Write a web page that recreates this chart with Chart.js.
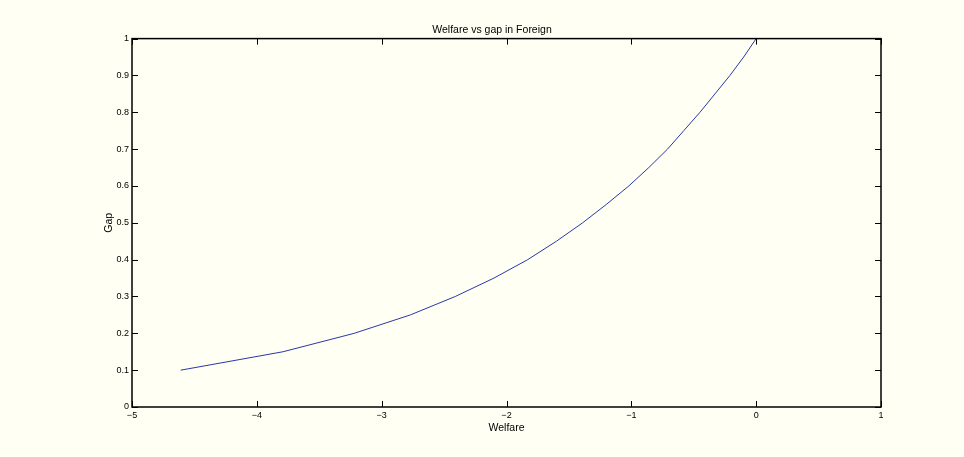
<!DOCTYPE html>
<html>
<head>
<meta charset="utf-8">
<script src="https://cdn.jsdelivr.net/npm/chart.js@4"></script>
<style>
  html, body { margin: 0; padding: 0; background: #fffff4; }
  #wrap { width: 964px; height: 457px; }
</style>
</head>
<body>
<div id="wrap"><canvas id="chart"></canvas></div>
<script>
// values
const welfare = [-4.61, -3.79, -3.22, -2.77, -2.41, -2.10, -1.83, -1.60, -1.39, -1.20,
                 -1.02, -0.86, -0.71, -0.58, -0.45, -0.33, -0.21, -0.10, 0];
const gap = [0.10, 0.15, 0.20, 0.25, 0.30, 0.35, 0.40, 0.45, 0.50, 0.55,
             0.60, 0.65, 0.70, 0.75, 0.80, 0.85, 0.90, 0.95, 1.00];
const xTicks = [-5, -4, -3, -2, -1, 0, 1];
const yTicks = [0, 0.1, 0.2, 0.3, 0.4, 0.5, 0.6, 0.7, 0.8, 0.9, 1];

const font = "Helvetica, Arial, 'Liberation Sans', sans-serif";

// matlab style box with inward ticks on all four sides
const boxTicks = {
  id: "boxTicks",
  afterDraw(chart) {
    const { ctx, chartArea: a, scales } = chart;
    const len = 6;
    ctx.save();
    ctx.strokeStyle = "#000";
    ctx.lineWidth = 1;
    ctx.beginPath();
    xTicks.forEach((v) => {
      const px = Math.round(scales.x.getPixelForValue(v)) + 0.5;
      ctx.moveTo(px, a.bottom); ctx.lineTo(px, a.bottom - len);
      ctx.moveTo(px, a.top); ctx.lineTo(px, a.top + len);
    });
    yTicks.forEach((v) => {
      const py = Math.round(scales.y.getPixelForValue(v)) + 0.5;
      ctx.moveTo(a.left, py); ctx.lineTo(a.left + len, py);
      ctx.moveTo(a.right, py); ctx.lineTo(a.right - len, py);
    });
    ctx.stroke();
    ctx.lineWidth = 1.5;
    ctx.strokeRect(a.left, a.top, a.right - a.left, a.bottom - a.top);
    ctx.restore();
  }
};

const pts = welfare.map((w, i) => ({ x: w, y: gap[i] }));

new Chart(document.getElementById("chart"), {
  type: "line",
  data: {
    datasets: [{
      data: pts,
      borderColor: "#2838aa",
      borderWidth: 1,
      pointRadius: 0,
      tension: 0,
      fill: false
    }]
  },
  options: {
    responsive: true,
    maintainAspectRatio: false,
    animation: false,
    layout: { padding: { left: 103, right: 83, top: 4, bottom: 23 } },
    plugins: {
      legend: { display: false },
      tooltip: { enabled: false },
      title: {
        display: true,
        text: "Welfare vs gap in Foreign",
        color: "#000",
        font: { family: font, size: 10.5, weight: "normal" },
        padding: { top: 20, bottom: 2 }
      }
    },
    scales: {
      x: {
        type: "linear",
        min: -5,
        max: 1,
        afterBuildTicks: (s) => { s.ticks = xTicks.map((v) => ({ value: v })); },
        afterFit: (s) => { s.height = 27; },
        grid: { display: false, drawTicks: false },
        border: { display: false },
        ticks: {
          color: "#000",
          padding: 3,
          maxRotation: 0,
          font: { family: font, size: 9 },
          callback: (v) => String(v).replace("-", "\u2212")
        },
        title: {
          display: true,
          text: "Welfare",
          color: "#000",
          font: { family: font, size: 10.5 },
          padding: { top: 0, bottom: 0 }
        }
      },
      y: {
        type: "linear",
        min: 0,
        max: 1,
        afterBuildTicks: (s) => { s.ticks = yTicks.map((v) => ({ value: v })); },
        afterFit: (s) => { s.width = 29; },
        grid: { display: false, drawTicks: false },
        border: { display: false },
        ticks: {
          color: "#000",
          padding: 3,
          font: { family: font, size: 9 },
          callback: (v) => String(v)
        },
        title: {
          display: true,
          text: "Gap",
          color: "#000",
          font: { family: font, size: 10.5 },
          padding: { top: 0, bottom: 0 }
        }
      }
    }
  },
  plugins: [boxTicks]
});
</script>
</body>
</html>
